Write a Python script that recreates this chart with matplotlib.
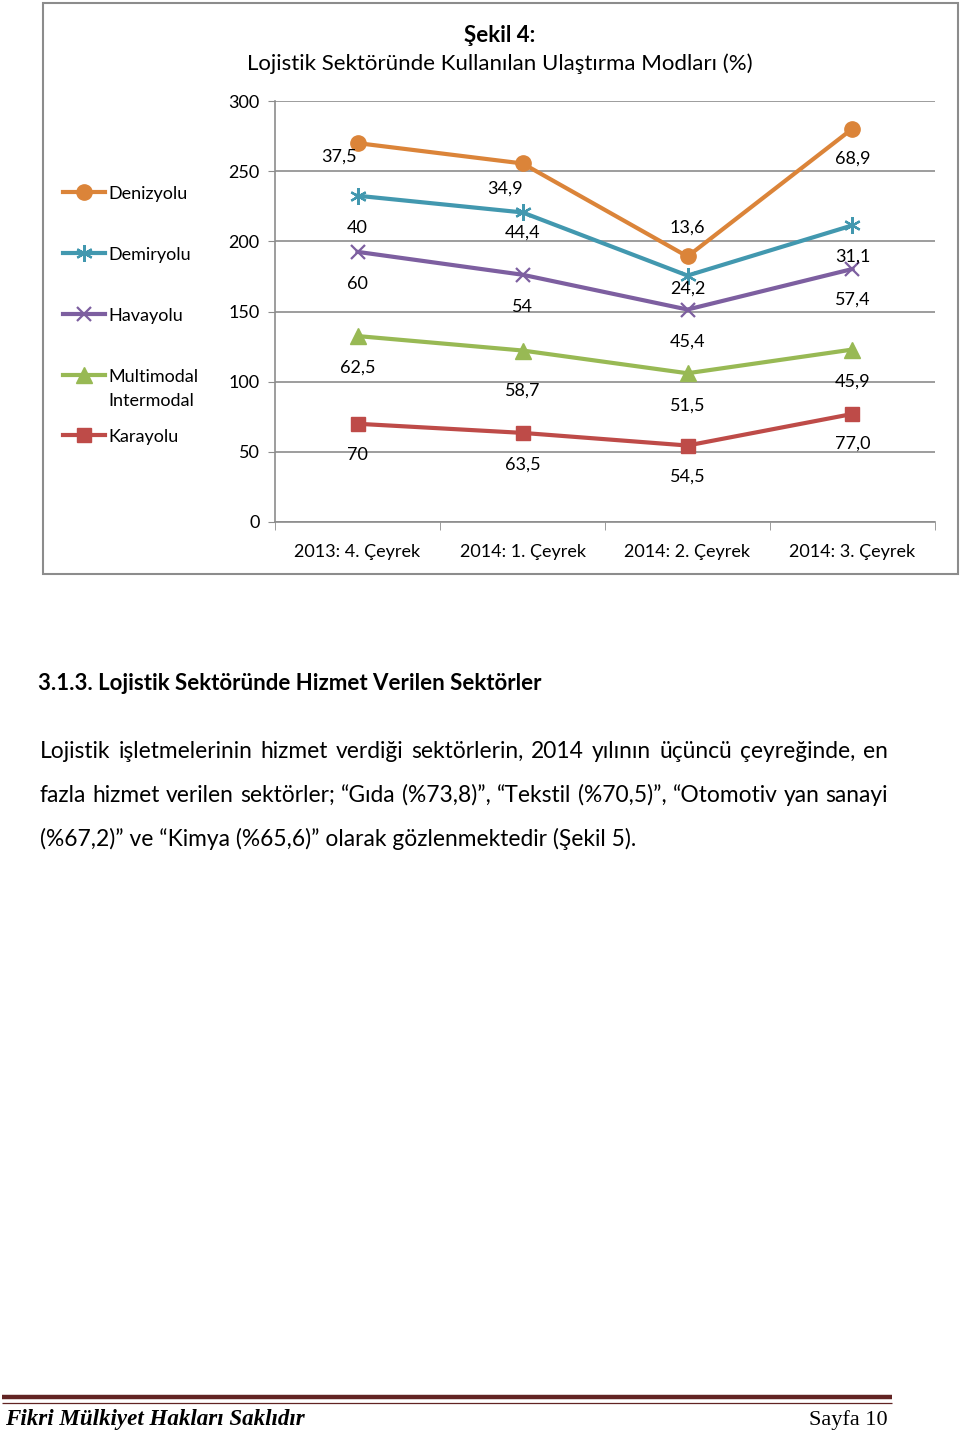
import matplotlib
matplotlib.use("Agg")
import matplotlib.pyplot as plt
from matplotlib.lines import Line2D
from matplotlib.patches import Rectangle
import numpy as np

W, H = 960, 1432
FONT = ["Lato", "DejaVu Sans"]
SERIF = ["Liberation Serif", "DejaVu Serif"]

quarters = ["2013: 4. Çeyrek", "2014: 1. Çeyrek", "2014: 2. Çeyrek", "2014: 3. Çeyrek"]
series_names = ["Karayolu", "Multimodal\nIntermodal", "Havayolu", "Demiryolu", "Denizyolu"]
karayolu = [70.0, 63.5, 54.5, 77.0]
multimodal = [62.5, 58.7, 51.5, 45.9]
havayolu = [60.0, 54.0, 45.4, 57.4]
demiryolu = [40.0, 44.4, 24.2, 31.1]
denizyolu = [37.5, 34.9, 13.6, 68.9]
labels = {
    "Karayolu": ["70", "63,5", "54,5", "77,0"],
    "Multimodal\nIntermodal": ["62,5", "58,7", "51,5", "45,9"],
    "Havayolu": ["60", "54", "45,4", "57,4"],
    "Demiryolu": ["40", "44,4", "24,2", "31,1"],
    "Denizyolu": ["37,5", "34,9", "13,6", "68,9"],
}
yticks = [0, 50, 100, 150, 200, 250, 300]

colors = {"Karayolu": "#be4b48", "Multimodal\nIntermodal": "#98b954", "Havayolu": "#7d5fa0",
          "Demiryolu": "#4298af", "Denizyolu": "#db8439"}
markers = {"Karayolu": ("s", 10), "Multimodal\nIntermodal": ("^", 11), "Havayolu": ("x", 10),
           "Demiryolu": ((6, 2, 0), 12), "Denizyolu": ("o", 11)}
# label offsets in pixels (dx, dy down)
offsets = {
    "Karayolu": [(0, 31), (0, 32), (0, 31), (0, 30)],
    "Multimodal\nIntermodal": [(0, 32), (0, 40), (0, 32), (0, 32)],
    "Havayolu": [(0, 32), (0, 32), (0, 32), (0, 31)],
    "Demiryolu": [(0, 32), (0, 20), (0, 13), (0, 31)],
    "Denizyolu": [(-18, 14), (-18, 25), (0, -29), (0, 30)],
}


def fx(x):
    return x / W


def fy(y):
    return 1 - y / H


fig = plt.figure(figsize=(W / 100, H / 100), dpi=100)
fig.patch.set_facecolor("white")

# chart frame
fig.add_artist(Rectangle((fx(43), fy(574)), fx(958) - fx(43), fy(3) - fy(574),
                         transform=fig.transFigure, fill=False, ec="#8c8c8c", lw=1.5))

ax = fig.add_axes([fx(275), fy(522), fx(935) - fx(275), fy(101) - fy(522)])
x = np.arange(len(quarters))
values = [karayolu, multimodal, havayolu, demiryolu, denizyolu]
cum = np.cumsum(np.array(values), axis=0)
for name, vals, top in zip(series_names, values, cum):
    m, ms = markers[name]
    mew = 1.6 if name in ("Havayolu", "Demiryolu") else 1
    ax.plot(x, top, color=colors[name], lw=3.0, marker=m, ms=ms, mew=mew,
            mec=colors[name], mfc=colors[name], zorder=3)
    for i in range(len(x)):
        dx, dy = offsets[name][i]
        ax.annotate(labels[name][i], (x[i], top[i]), xytext=(dx, -dy),
                    textcoords="offset pixels", ha="center", va="center",
                    fontsize=13, family=FONT, color="black", zorder=4)

ax.set_xlim(-0.5, 3.5)
ax.set_ylim(0, 300)
ax.set_yticks(yticks)
ax.set_yticklabels([str(v) for v in yticks], family=FONT, fontsize=13)
ax.set_xticks(x)
ax.set_xticklabels(quarters, family=FONT, fontsize=13)
ax.set_xticks(np.arange(-0.5, 4.0, 1.0), minor=True)
ax.tick_params(axis="x", which="major", length=0, pad=16)
ax.tick_params(axis="x", which="minor", length=6, color="#8c8c8c", direction="out")
ax.tick_params(axis="y", length=5, color="#8c8c8c", pad=6)
ax.yaxis.grid(True, color="#8c8c8c", lw=1.2)
ax.set_axisbelow(True)
for s in ("top", "right"):
    ax.spines[s].set_visible(False)
for s in ("left", "bottom"):
    ax.spines[s].set_color("#8c8c8c")
    ax.spines[s].set_linewidth(1.2)

fig.text(fx(500), fy(35), "Şekil 4:", ha="center", va="center", fontsize=16,
         weight="bold", family=FONT)
fig.text(fx(500), fy(64), "Lojistik Sektöründe Kullanılan Ulaştırma Modları (%)",
         ha="center", va="center", fontsize=16, family=FONT)

# legend, drawn by hand to follow the uneven spacing
legend_y = {"Denizyolu": 192, "Demiryolu": 253, "Havayolu": 314,
            "Multimodal\nIntermodal": 375, "Karayolu": 435}
for name, ly in legend_y.items():
    m, ms = markers[name]
    mew = 1.6 if name in ("Havayolu", "Demiryolu") else 1
    fig.add_artist(Line2D([fx(63), fx(105)], [fy(ly), fy(ly)], transform=fig.transFigure,
                          color=colors[name], lw=3.0))
    fig.add_artist(Line2D([fx(84)], [fy(ly)], transform=fig.transFigure, marker=m,
                          ms=ms, mew=mew, color=colors[name]))
    for k, part in enumerate(name.split("\n")):
        fig.text(fx(108), fy(ly + 2 + 24 * k), part, ha="left", va="center",
                 fontsize=13, family=FONT)

# body text below the chart
fig.text(fx(38), fy(684), "3.1.3. Lojistik Sektöründe Hizmet Verilen Sektörler",
         ha="left", va="center", fontsize=16, weight="bold", family=FONT)

body_lines = [
    ("Lojistik işletmelerinin hizmet verdiği sektörlerin, 2014 yılının üçüncü çeyreğinde, en", 758, True),
    ("fazla hizmet verilen sektörler; “Gıda (%73,8)”, “Tekstil (%70,5)”, “Otomotiv yan sanayi", 802, True),
    ("(%67,2)” ve “Kimya (%65,6)” olarak gözlenmektedir (Şekil 5).", 846, False),
]
renderer = fig.canvas.get_renderer()
for line, base, justify in body_lines:
    if not justify:
        fig.text(fx(40), fy(base), line, ha="left", va="baseline", fontsize=16.4, family=FONT)
        continue
    words = line.split(" ")
    texts = [fig.text(0, fy(base), w, ha="left", va="baseline", fontsize=16.4, family=FONT)
             for w in words]
    widths = [t.get_window_extent(renderer).width for t in texts]
    gap = (888 - 40 - sum(widths)) / (len(words) - 1)
    pos = 40
    for t, w in zip(texts, widths):
        t.set_x(fx(pos))
        pos += w + gap

# footer
fig.add_artist(Line2D([fx(2), fx(892)], [fy(1397), fy(1397)], transform=fig.transFigure,
                      color="#622423", lw=3.2, solid_capstyle="butt"))
fig.add_artist(Line2D([fx(2), fx(892)], [fy(1402.5), fy(1402.5)], transform=fig.transFigure,
                      color="#622423", lw=0.9, solid_capstyle="butt"))
fig.text(fx(5), fy(1420), "Fikri Mülkiyet Hakları Saklıdır", ha="left", va="center",
         fontsize=16.6, weight="bold", style="italic", family=SERIF)
fig.text(fx(888), fy(1420), "Sayfa 10", ha="right", va="center", fontsize=16, family=SERIF)

fig.savefig("out.png", dpi=100, facecolor="white")
